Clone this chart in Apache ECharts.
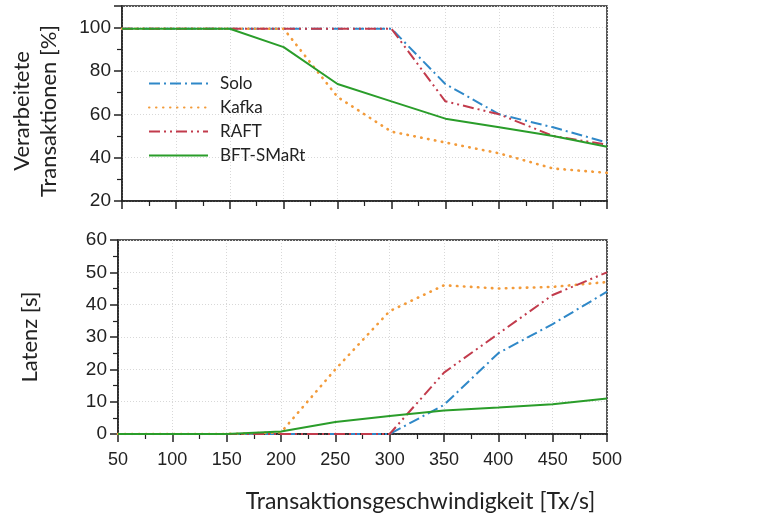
<!DOCTYPE html>
<html>
<head>
<meta charset="utf-8">
<script src="https://cdn.jsdelivr.net/npm/echarts@6/dist/echarts.min.js"></script>
<style>
  html, body { margin: 0; padding: 0; background: #fff; }
  #chart { width: 768px; height: 519px; }
</style>
</head>
<body>
<div id="chart"></div>
<script>
// x values (Tx/s)
var rates = [50, 100, 150, 200, 250, 300, 350, 400, 450, 500]

// processed transactions [%]
var soloTx = [99.5, 99.5, 99.5, 99.5, 99.5, 99.5, 74, 60, 54, 47]
var kafkaTx = [99.5, 99.5, 99.5, 99.5, 68, 52, 47, 42, 35, 33]
var raftTx = [99.5, 99.5, 99.5, 99.5, 99.5, 99.5, 66, 60, 50, 46]
var bftTx = [99.5, 99.5, 99.5, 91, 74, 66, 58, 54, 50, 45]

// latency [s]
var soloLat = [0, 0, 0, 0, 0, 0, 9, 25, 34, 44]
var kafkaLat = [0, 0, 0, 0.5, 20, 38, 46, 45, 45.5, 47]
var raftLat = [0, 0, 0, 0, 0, 0, 19, 31, 43, 50]
var bftLat = [0, 0, 0, 0.8, 3.7, 5.6, 7.3, 8.2, 9.2, 11]

var names = ['Solo', 'Kafka', 'RAFT', 'BFT-SMaRt']
var colors = ['#2f88c8', '#f39b3a', '#c23b4c', '#2a9d2a']
var dashes = [[11, 4, 2, 4], [0.5, 6.5], [11, 4, 2, 4, 2, 4], 'solid']

var font = "'Liberation Sans', Arial, sans-serif"
var labelFont = "Lato, 'Open Sans', sans-serif"

function pairs(vals) {
  return rates.map(function (r, i) { return [r, vals[i]] })
}

function xAxis(idx, showLabel) {
  return {
    type: 'value',
    gridIndex: idx,
    min: 50,
    max: 500,
    interval: 50,
    axisLine: { onZero: false, lineStyle: { color: '#222', width: 1.5 } },
    axisTick: { length: 8, lineStyle: { color: '#222', width: 1.5 } },
    minorTick: { show: true, splitNumber: 2, length: 5, lineStyle: { color: '#222', width: 1.2 } },
    axisLabel: { show: showLabel, fontSize: 18, color: '#222', fontFamily: font, margin: 17 },
    splitLine: { show: true, lineStyle: { color: '#d8d8d8', type: [1, 2] } },
    name: showLabel ? 'Transaktionsgeschwindigkeit [Tx/s]' : '',
    nameLocation: 'middle',
    nameGap: 56,
    nameTextStyle: { fontSize: 23, color: '#222', fontFamily: labelFont, padding: [0, 0, 0, 116] }
  }
}

function yAxis(idx, min, max, step, name, gap, pad) {
  return {
    type: 'value',
    gridIndex: idx,
    min: min,
    max: max,
    interval: step,
    axisLine: { show: true, lineStyle: { color: '#222', width: 1.5 } },
    axisTick: { show: true, length: 8, lineStyle: { color: '#222', width: 1.5 } },
    minorTick: { show: true, splitNumber: 2, length: 5, lineStyle: { color: '#222', width: 1.2 } },
    axisLabel: {
      fontSize: 19, color: '#222', fontFamily: font, margin: 11,
      formatter: function (v) { return v % step === 0 ? String(v) : '' }
    },
    splitLine: { show: true, lineStyle: { color: '#d8d8d8', type: [1, 2] } },
    name: name,
    nameLocation: 'middle',
    nameGap: gap,
    nameTextStyle: { fontSize: 22, color: '#222', fontFamily: labelFont, lineHeight: 27, padding: pad }
  }
}

function line(i, vals, grid) {
  return {
    name: names[i],
    type: 'line',
    xAxisIndex: grid,
    yAxisIndex: grid,
    data: pairs(vals),
    symbol: 'none',
    color: colors[i],
    lineStyle: { color: colors[i], width: i === 1 ? 2.6 : 2, type: dashes[i], cap: i === 1 ? 'round' : 'butt' },
    z: i === 3 ? 3 : 2,
    animation: false
  }
}

var chart = echarts.init(document.getElementById('chart'))
chart.setOption({
  backgroundColor: '#fff',
  legend: {
    data: names,
    orient: 'vertical',
    left: 143,
    top: 70,
    itemWidth: 59,
    itemHeight: 14,
    itemGap: 7,
    itemStyle: { opacity: 0 },
    textStyle: { fontSize: 17, color: '#222', fontFamily: labelFont, padding: [0, 0, 0, 7] }
  },
  grid: [
    { left: 118, top: 6, width: 489, height: 195, show: true, borderColor: '#222', borderWidth: 1.5 },
    { left: 118, top: 240, width: 489, height: 194, show: true, borderColor: '#222', borderWidth: 1.5 }
  ],
  xAxis: [xAxis(0, false), xAxis(1, true)],
  yAxis: [
    yAxis(0, 20, 110, 20, 'Verarbeitete\nTransaktionen [%]', 60, [0, 15, 0, 0]),
    yAxis(1, 0, 60, 10, 'Latenz [s]', 75, [0, 0, 0, 0])
  ],
  series: [
    line(0, soloTx, 0), line(1, kafkaTx, 0), line(2, raftTx, 0), line(3, bftTx, 0),
    line(0, soloLat, 1), line(1, kafkaLat, 1), line(2, raftLat, 1), line(3, bftLat, 1)
  ]
})
</script>
</body>
</html>
